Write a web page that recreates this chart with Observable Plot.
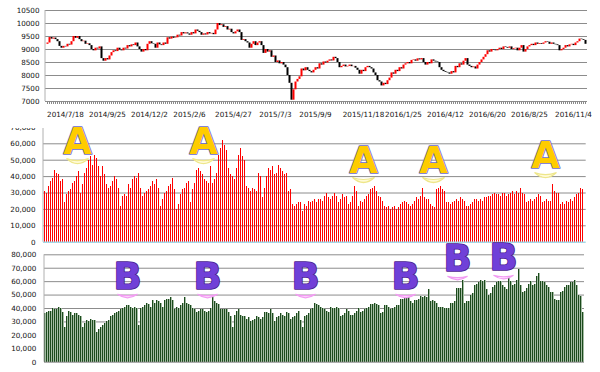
<!DOCTYPE html>
<html><head><meta charset="utf-8">
<script src="https://cdn.jsdelivr.net/npm/d3@7"></script>
<script src="https://cdn.jsdelivr.net/npm/@observablehq/plot@0.6"></script>
<style>
body{margin:0;background:#fff;}
#wrap{position:relative;width:600px;height:372px;overflow:hidden;background:#fff;}
.box{position:absolute;left:0;width:600px;}
</style></head><body><div id="wrap"></div>
<script>
// ---- data ----
const closes = [
9250,9460,9400,9440,9380,9300,9120,9050,9120,9100,
9200,9170,9300,9500,9430,9500,9380,9300,9320,9200,
9220,9150,9000,8950,9050,9020,9100,8650,8550,8650,
8600,8750,8880,8950,8920,9050,8980,8950,9050,9020,
9150,9100,9180,9150,9250,9100,9000,8900,9000,8950,
9200,9300,9220,9200,9050,9250,9180,9150,9250,9200,
9450,9400,9480,9430,9450,9550,9520,9650,9600,9640,
9600,9550,9650,9600,9750,9700,9650,9550,9600,9560,
9650,9600,9620,9570,9750,10000,9920,9950,9850,9880,
9750,9780,9650,9600,9680,9750,9650,9350,9380,9300,
9250,9050,9200,9300,9150,9250,9300,9150,8850,9000,
8900,8950,8700,8750,8500,8560,8450,8500,8400,8300,
8000,7700,7050,7450,7750,7850,7950,8250,8180,8300,
8200,8150,8100,8200,8300,8250,8450,8400,8520,8480,
8550,8600,8560,8700,8650,8500,8300,8350,8400,8330,
8350,8400,8340,8350,8280,8200,8050,8200,8150,8300,
8350,8300,8250,8100,8000,7800,7750,7600,7700,7650,
7800,7900,8100,8050,8200,8150,8300,8250,8400,8450,
8500,8450,8580,8600,8550,8640,8600,8650,8500,8400,
8500,8450,8600,8550,8520,8500,8300,8200,8150,8120,
8100,8050,8150,8100,8350,8300,8450,8400,8550,8650,
8400,8350,8300,8330,8250,8400,8500,8600,8700,8800,
8950,8900,9000,8980,8950,9000,9050,9000,9100,9080,
9050,9100,9000,9030,9050,8950,9050,9150,8900,9000,
9100,9150,9200,9150,9250,9200,9230,9200,9250,9300,
9280,9200,9250,9200,9180,9150,8950,9000,9050,9150,
9100,9180,9200,9150,9250,9300,9400,9380,9350,9200
];
const firstOpen = 9200;

// volume, thousands
const redVol = [
31,30,34,37,39,44,42,41,37,38,
24,29,31,32,36,37,40,43,30,35,
42,45,50,52,47,53,51,46,40,46,
41,35,33,34,37,40,38,33,22,28,
29,28,35,33,38,40,39,42,33,28,
30,31,32,34,37,35,38,33,22,26,
30,31,34,35,39,32,20,23,29,32,
33,36,37,24,32,36,44,45,43,41,
38,37,36,46,36,38,42,53,57,62,
59,56,45,41,40,38,45,53,57,52,
50,34,33,31,33,32,31,42,40,27,
33,40,45,44,46,41,42,47,45,43,
41,42,31,32,23,22,23,24,
24,19,23,22,25,24,25,26,24,26,
26,25,28,30,27,26,28,30,28,24,
26,29,27,28,23,24,28,34,31,22,
25,24,26,28,29,32,33,34,31,28,
27,25,22,21,22,20,21,22,20,21,
23,24,25,24,23,22,23,25,27,26,
28,33,27,26,26,23,22,21,32,33,
34,32,31,24,24,23,24,25,26,25,
27,26,25,22,22,23,24,26,26,25,
26,25,27,27,28,28,29,30,29,29,
28,30,30,28,29,30,31,29,31,30,
33,30,29,24,25,26,25,26,27,29,
28,24,25,26,25,25,35,31,30,30,
23,24,23,25,24,26,25,27,29,30,
33,32
];

const greenVol = [
36,37,38,38,40,39,39,41,40,37,
26,34,38,37,35,36,36,35,34,26,
29,31,30,32,31,31,22,24,26,27,
29,30,31,34,35,36,37,38,39,40,
41,42,42,41,40,41,40,27,40,41,
42,44,43,41,46,44,46,45,44,41,
46,47,47,48,46,39,41,40,42,44,
48,44,43,42,40,39,37,38,39,39,
38,37,38,40,50,45,44,43,39,39,
39,39,37,34,26,35,38,39,35,34,
34,32,33,30,31,32,34,33,32,33,
37,37,36,39,36,30,33,34,36,35,
34,37,36,32,33,34,36,38,
31,26,34,35,36,39,40,44,43,42,
41,40,39,38,37,41,40,40,41,40,
34,35,36,39,38,35,35,36,38,40,
37,38,39,40,41,43,43,44,43,42,
36,37,42,42,41,39,40,41,42,42,
47,47,50,49,49,45,44,46,46,47,
49,48,49,48,54,45,46,45,44,41,
41,41,40,40,40,44,44,45,55,55,
55,61,44,45,45,50,51,57,58,59,
61,60,61,54,50,51,56,57,59,60,
60,57,56,54,62,60,57,58,61,69,
57,52,53,55,58,60,57,58,64,66,
60,60,59,57,56,52,52,47,46,46,
52,53,56,57,57,59,59,61,57,50,
49,37
];

const dateIdx = [9,30,51,71,93,114,134,158,178,199,220,241,263];
const dateLabels = ["2014/7/18","2014/9/25","2014/12/2","2015/2/6","2015/4/27","2015/7/3","2015/9/9","2015/11/18","2016/1/25","2016/4/12","2016/6/20","2016/8/25","2016/11/4"];
const priceTicks = [7000,7500,8000,8500,9000,9500,10000,10500];
const redTicks = [0,10000,20000,30000,40000,50000,60000,70000];
const greenTicks = [0,10000,20000,30000,40000,50000,60000,70000,80000];

const aIdx = [16,79,159,194,250];
const aVal = [54000,54000,42500,42500,45500];
const bIdx = [41,81,130,180,206,229];
const bVal = [54300,54300,54300,54300,67700,68400];

// ---- build ----
const N = closes.length;
const days = d3.range(N);
const candles = days.map(i => ({i, o: i ? closes[i-1] : firstOpen, c: closes[i]}));
const red = days.map(i => ({i, v: redVol[i] * 1000}));
const green = days.map(i => ({i, v: greenVol[i] * 1000}));
const aData = aIdx.map((i,k) => ({i, v: aVal[k]}));
const bData = bIdx.map((i,k) => ({i, v: bVal[k]}));
const fmt = d3.format(",");
const FONT = "DejaVu Sans, Verdana, sans-serif";
const st = {fontFamily: FONT, fontSize: "7.2px", color: "#111", background: "transparent", overflow: "visible"};

// faded "reflection" under the letters: a flat crescent symbol
const cup = (depth) => ({draw(ctx, size) {
  const w = Math.sqrt(size / Math.PI);
  ctx.moveTo(-w, 0);
  ctx.quadraticCurveTo(0, 2 * depth, w, 0);
  ctx.quadraticCurveTo(0, 0.8 * depth, -w, 0);
  ctx.closePath();
}});

const wrap = document.getElementById("wrap");
function leftLine(svg, x, y1, y2, color) {
  d3.select(svg).append("line").attr("x1", x).attr("x2", x).attr("y1", y1).attr("y2", y2)
    .attr("stroke", color).attr("stroke-width", 1);
}
function place(svg, top, height, clip, svgTop) {
  const b = document.createElement("div");
  b.className = "box"; b.style.top = top + "px"; b.style.height = height + "px";
  b.style.overflow = clip ? "hidden" : "visible";
  svg.style.position = "absolute"; svg.style.left = "0px"; svg.style.top = (svgTop || 0) + "px";
  b.appendChild(svg); wrap.appendChild(b);
}

// Panel 1: price
const p1 = Plot.plot({
  width: 600, height: 122, marginTop: 10, marginBottom: 21, marginLeft: 45, marginRight: 13,
  style: st,
  x: {type: "band", domain: days, padding: 0, axis: null},
  y: {domain: [7000, 10500], axis: null},
  marks: [
    Plot.gridY(priceTicks, {stroke: "#8c8c8c", strokeOpacity: 1}),
    Plot.axisY({ticks: priceTicks, tickSize: 0, tickPadding: 6, label: null, tickFormat: d => String(d)}),
    Plot.axisX({ticks: days, tickSize: 3, label: null, tickFormat: () => "", stroke: "#8a8a8a"}),
    Plot.axisX({ticks: dateIdx, tickSize: 0, tickPadding: 10, label: null, tickFormat: i => dateLabels[dateIdx.indexOf(i)]}),
    Plot.ruleX(candles.filter(d => d.c < d.o), {x: "i", y1: "o", y2: "c", stroke: "#000", strokeWidth: 2}),
    Plot.ruleX(candles.filter(d => d.c >= d.o), {x: "i", y1: "o", y2: "c", stroke: "#ff0000", strokeWidth: 2})
  ]
});
d3.select(p1).selectAll("text").filter(function() { return this.textContent === ""; }).remove();
leftLine(p1, 45, 10, 101, "#b0b0b0");
place(p1, 0, 122, false);

// Panel 2: red volume (clipped at the top like the reference)
const p2opts = {
  width: 600, height: 129, marginTop: 8.9, marginBottom: 5.3, marginLeft: 43, marginRight: 14.3,
  style: st,
  x: {type: "band", domain: days, padding: 0, axis: null},
  y: {domain: [0, 70000], axis: null}
};
const p2 = Plot.plot({...p2opts, marks: [
  Plot.gridY(redTicks.slice(1), {stroke: "#8c8c8c", strokeOpacity: 1}),
  Plot.axisY({ticks: redTicks, tickSize: 0, tickPadding: 8, label: null, tickFormat: fmt}),
  Plot.barY(red, {x: "i", y: "v", fill: "#ff0000", insetLeft: 0.3, insetRight: 0.6, shapeRendering: "crispEdges"}),
  Plot.ruleY([0], {stroke: "#a6d8e6", strokeWidth: 1.5})
]});
leftLine(p2, 43, 0, 123.7, "#b0b0b0");
place(p2, 128, 119, true, -10);
const p2a = Plot.plot({...p2opts, marks: [
  Plot.dot(aData, {x: "i", y: "v", symbol: cup(5), r: 11, dy: 5, fill: "#fffbd8", stroke: "#eee68a", strokeWidth: 1.2}),
  Plot.text(aData, {x: "i", y: "v", text: () => "A", lineAnchor: "bottom", fontSize: 37, fontWeight: "bold",
    fontFamily: FONT, fill: "#ffcc00", stroke: "#6a6ad0", strokeWidth: 1.6, paintOrder: "stroke"})
]});
place(p2a, 118, 129, false);

// Panel 3: green volume (band step of exactly 2px keeps the stripes regular)
const p3 = Plot.plot({
  width: 600, height: 125, marginTop: 7.3, marginBottom: 10.3, marginLeft: 44, marginRight: 16,
  style: st,
  x: {type: "band", domain: days, padding: 0, axis: null},
  y: {domain: [0, 80000], axis: null},
  marks: [
    Plot.gridY(greenTicks.slice(1), {stroke: "#8c8c8c", strokeOpacity: 1}),
    Plot.axisY({ticks: greenTicks, tickSize: 0, tickPadding: 8.2, label: null, tickFormat: fmt}),
    Plot.barY(green, {x: "i", y: "v", fill: "#a3bca3", shapeRendering: "crispEdges"}),
    Plot.barY(green, {x: "i", y: "v", fill: "#1c4a1c", insetRight: 1, shapeRendering: "crispEdges"}),
    Plot.ruleY([0], {stroke: "#8a8a8a", strokeWidth: 1}),
    Plot.dot(bData, {x: "i", y: "v", symbol: cup(3.5), r: 10, dy: 5, fill: "#ffe0ff", stroke: "#f29cf2", strokeWidth: 1.2}),
    Plot.text(bData, {x: "i", y: "v", text: () => "B", lineAnchor: "bottom", fontSize: 37, fontWeight: "bold",
      fontFamily: FONT, fill: "#7040d8", stroke: "#4a2290", strokeWidth: 1.6, paintOrder: "stroke"})
  ]
});
leftLine(p3, 44, 7.3, 114.7, "#b0b0b0");
place(p3, 247, 125, false);
</script></body></html>
